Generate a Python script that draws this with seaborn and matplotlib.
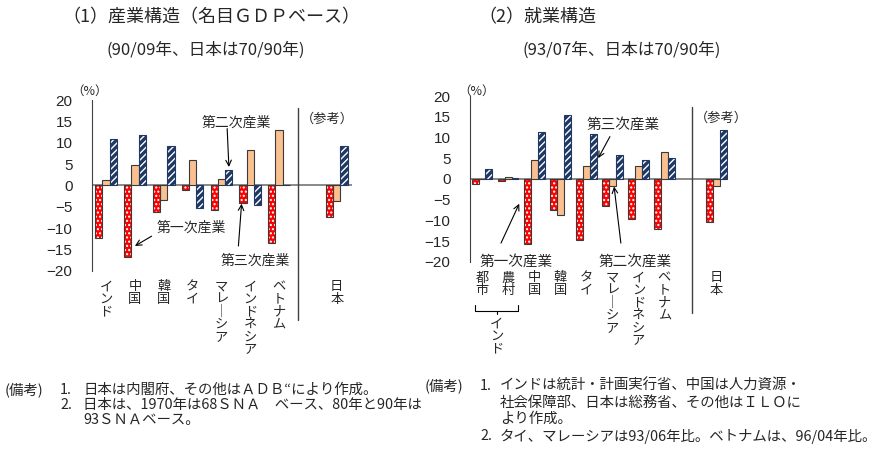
import numpy as np
import pandas as pd
import seaborn as sns
import matplotlib.pyplot as plt
from matplotlib.patches import Rectangle

sns.set_style('white')
plt.rcParams['font.family'] = ['Noto Sans CJK JP', 'DejaVu Sans']
plt.rcParams['hatch.linewidth'] = 1.0

###-------- Datos (1) 産業構造（名目GDPベース）
paises_1 = ['インド', '中国', '韓国', 'タイ', 'マレーシア', 'インドネシア', 'ベトナム', '日本']
primario_1 = [-12.3, -16.8, -6.2, -1.1, -5.8, -4.1, -13.4, -7.5]
secundario_1 = [1.3, 4.7, -3.4, 5.9, 1.6, 8.4, 12.9, -3.6]
terciario_1 = [10.8, 11.7, 9.2, -5.3, 3.6, -4.6, 0.2, 9.3]

###-------- Datos (2) 就業構造
paises_2 = ['都市', '農村', '中国', '韓国', 'タイ', 'マレーシア', 'インドネシア', 'ベトナム', '日本']
primario_2 = [-1.2, -0.6, -15.7, -7.6, -14.7, -6.5, -9.6, -12.2, -10.4]
secundario_2 = [0.0, 0.5, 4.5, -8.8, 3.1, -1.7, 3.1, 6.5, -1.7]
terciario_2 = [2.3, 0.3, 11.2, 15.4, 10.8, 5.8, 4.5, 5.1, 11.9]

sectores = ['第一次産業', '第二次産業', '第三次産業']


def armar(paises, a, b, c):
    return pd.DataFrame({'pais': paises * 3,
                         'sector': np.repeat(sectores, len(paises)),
                         'valor': a + b + c})


def vertical(s):
    # texto vertical: un caracter por linea
    return '\n'.join('｜' if ch == 'ー' else ch for ch in s)


def contorno(ax, bar, color):
    ax.add_patch(Rectangle(bar.get_xy(), bar.get_width(), bar.get_height(),
                           fill=False, edgecolor=color, lw=0.8, zorder=3))


def dibujar(ax, df, orden, ancho):
    sns.barplot(data=df, x='pais', y='valor', hue='sector', order=orden, hue_order=sectores,
                palette=['#ff0000', '#fac090', '#1f3864'], width=ancho, saturation=1,
                errorbar=None, legend=False, ax=ax, zorder=2)
    for k, cont in enumerate(ax.containers):
        for bar in cont:
            if k == 0:
                bar.set_hatch('....')
                bar.set_edgecolor('white')
                bar.set_linewidth(0)
                contorno(ax, bar, '#3a3a3a')
            elif k == 1:
                bar.set_edgecolor('#3a3a3a')
                bar.set_linewidth(0.8)
            else:
                bar.set_hatch('/////')
                bar.set_edgecolor('white')
                bar.set_linewidth(0)
                contorno(ax, bar, '#1f3864')
    ax.axhline(0, color='#808080', lw=1.3, zorder=1)
    ax.set_ylim(-20, 20)
    ax.set_yticks(range(-20, 21, 5))
    ax.tick_params(axis='y', direction='in', length=3, pad=14, labelsize=11, color='#404040')
    for lab in ax.get_yticklabels():
        lab.set_fontfamily('Liberation Sans')
    ax.set_xticks(range(len(orden)))
    ax.set_xticklabels([vertical(s) for s in orden], fontsize=9.5, linespacing=0.95)
    ax.tick_params(axis='x', length=0, pad=7)
    ax.set_xlabel('')
    ax.set_ylabel('')
    ax.spines[['top', 'right', 'bottom']].set_visible(False)
    ax.spines['left'].set_color('#404040')


flecha = dict(arrowstyle='->', color='black', lw=0.8, shrinkA=0, shrinkB=0)

fig = plt.figure(figsize=(8.92, 4.59), dpi=100)

# ---------------- (1)
ax1 = fig.add_axes([0.1031, 0.4102, 0.2915, 0.3719])
orden_1 = paises_1[:7] + [''] + paises_1[7:]
dibujar(ax1, armar(paises_1, primario_1, secundario_1, terciario_1), orden_1, 0.75)
ax1.set_xlim(-0.49, 8.53)
ax1.axvline(6.66, ymin=-0.289, ymax=0.953, clip_on=False, color='#404040', lw=1)
ax1.text(7.67, 15.5, '（参考）', ha='center', va='center', fontsize=9.5)
ax1.text(-0.56, 22.1, '（%）', ha='center', va='center', fontsize=9)
ax1.text(4.5, 14.7, '第二次産業', ha='center', va='center', fontsize=10)
ax1.annotate('', xy=(4.26, 4.3), xytext=(4.2, 13.3), arrowprops=flecha)
ax1.text(2.94, -9.9, '第一次産業', ha='center', va='center', fontsize=10)
ax1.annotate('', xy=(1.0, -14.2), xytext=(1.58, -11.9), arrowprops=flecha)
ax1.text(5.17, -17.7, '第三次産業', ha='center', va='center', fontsize=10)
ax1.annotate('', xy=(4.70, -4.3), xytext=(4.59, -14.2), arrowprops=flecha)

# ---------------- (2)
ax2 = fig.add_axes([0.5269, 0.4298, 0.2892, 0.361])
orden_2 = paises_2[:8] + [''] + paises_2[8:]
dibujar(ax2, armar(paises_2, primario_2, secundario_2, terciario_2), orden_2, 0.8)
ax2.set_xlim(-0.46, 9.44)
ax2.axvline(8.06, ymin=-0.31, ymax=0.934, clip_on=False, color='#404040', lw=1)
ax2.text(9.17, 14.7, '（参考）', ha='center', va='center', fontsize=9.5)
ax2.text(-0.19, 21.2, '（%）', ha='center', va='center', fontsize=9)
ax2.text(5.43, 13.0, '第三次産業', ha='center', va='center', fontsize=10.5)
ax2.annotate('', xy=(4.46, 5.0), xytext=(4.91, 10.2), arrowprops=flecha)
ax2.text(1.3, -19.9, '第一次産業', ha='center', va='center', fontsize=10.5)
ax2.annotate('', xy=(1.43, -6.0), xytext=(0.73, -15.5), arrowprops=flecha)
ax2.text(5.87, -19.9, '第二次産業', ha='center', va='center', fontsize=10.5)
ax2.annotate('', xy=(5.07, -1.85), xytext=(5.33, -15.5), arrowprops=flecha)
# llave de India
ax2.plot([-0.27, -0.27, 1.38, 1.38], [-30.5, -31.8, -31.8, -30.5], color='black', lw=0.8, clip_on=False)
ax2.plot([0.56, 0.56], [-31.8, -32.6], color='black', lw=0.8, clip_on=False)
ax2.text(0.56, -33.5, vertical('インド'), ha='center', va='top', fontsize=9.5, linespacing=0.95)

# ---------------- titulos
W, H = 892, 459
fig.text(62 / W, 1 - 17 / H, '（1）産業構造（名目ＧＤＰベース）', fontsize=13, va='center')
fig.text(106 / W, 1 - 50 / H, '(90/09年、日本は70/90年)', fontsize=12, va='center')
fig.text(478 / W, 1 - 17 / H, '（2）就業構造', fontsize=13, va='center')
fig.text(523 / W, 1 - 50 / H, '(93/07年、日本は70/90年)', fontsize=12, va='center')

# ---------------- notas
notas = [(5, 390, '(備考)'), (60, 390, '1.'), (83, 390, '日本は内閣府、その他はＡＤＢ“により作成。'),
         (60, 405, '2.'), (83, 405, '日本は、1970年は68ＳＮＡ　ベース、80年と90年は'),
         (83, 420, '93ＳＮＡベース。'),
         (425, 386, '(備考)'), (480, 386, '1.'), (500, 386, 'インドは統計・計画実行省、中国は人力資源・'),
         (500, 403, '社会保障部、日本は総務省、その他はＩＬＯに'), (500, 419, 'より作成。'),
         (480, 436, '2.'), (500, 436, 'タイ、マレーシアは93/06年比。ベトナムは、96/04年比。')]
for x, y, t in notas:
    fig.text(x / W, 1 - y / H, t, fontsize=10.4, va='center')

plt.savefig('out.png', dpi=100)
